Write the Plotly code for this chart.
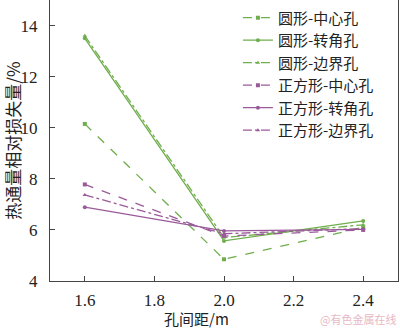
import plotly.graph_objects as go

spacing = [1.6, 2.0, 2.4]

names = ["圆形-中心孔", "圆形-转角孔", "圆形-边界孔",
         "正方形-中心孔", "正方形-转角孔", "正方形-边界孔"]

circle_center = [10.15, 4.85, 6.1]
circle_corner = [13.5, 5.57, 6.35]
circle_edge = [13.6, 5.7, 6.2]
square_center = [7.78, 5.76, 6.0]
square_corner = [6.89, 5.96, 6.02]
square_edge = [7.37, 5.85, 6.05]

series = [circle_center, circle_corner, circle_edge,
          square_center, square_corner, square_edge]

green = "#6fae4c"
purple = "#9a5a9a"
colors = [green, green, green, purple, purple, purple]
dashes = ["dash", "solid", "dashdot", "dash", "solid", "dashdot"]
symbols = ["square", "circle", "triangle-up", "square", "circle", "triangle-up"]

fig = go.Figure()
for name, ys, c, d, s in zip(names, series, colors, dashes, symbols):
    fig.add_trace(go.Scatter(
        x=spacing, y=ys, name=name, mode="lines+markers",
        line=dict(color=c, width=1.3, dash=d),
        marker=dict(symbol=s, size=4, color=c),
    ))

serif = "Times New Roman, Liberation Serif, serif"
cjk = "Noto Sans CJK SC"
axis_font = dict(family=serif, size=17, color="#222")
fig.update_layout(
    width=400, height=329,
    margin=dict(l=50, r=2, t=0, b=48),
    paper_bgcolor="white", plot_bgcolor="white",
    showlegend=True,
    legend=dict(x=0.54, y=0.995, xanchor="left", yanchor="top",
                bgcolor="rgba(0,0,0,0)",
                font=dict(family=cjk, size=15, color="#222"),
                itemwidth=30, tracegroupgap=0),
    xaxis=dict(range=[1.5, 2.5], tickvals=[1.6, 1.8, 2.0, 2.2, 2.4],
               ticktext=["1.6", "1.8", "2.0", "2.2", "2.4"],
               ticks="inside", ticklen=5, tickcolor="#444",
               ticklabelstandoff=4,
               showline=True, linecolor="#444", linewidth=1, mirror=True,
               showgrid=False, zeroline=False, tickfont=axis_font),
    yaxis=dict(range=[4, 15], tickvals=[4, 6, 8, 10, 12, 14],
               ticks="inside", ticklen=5, tickcolor="#444",
               ticklabelstandoff=8,
               showline=True, linecolor="#444", linewidth=1, mirror=True,
               showgrid=False, zeroline=False, tickfont=axis_font,
               title=dict(text="热通量相对损失量/%", standoff=2,
                          font=dict(family=cjk, size=17, color="#222"))),
)

# x-axis title placed as a paper annotation just under the tick labels
fig.add_annotation(text="孔间距/m", xref="paper", yref="paper",
                   x=0.42, y=-0.134, xanchor="center", yanchor="middle",
                   showarrow=False,
                   font=dict(family=cjk, size=15, color="#222"))

fig.add_annotation(text="@有色金属在线", xref="paper", yref="paper",
                   x=1.0, y=-0.1, xanchor="right", yanchor="top",
                   showarrow=False,
                   font=dict(family=cjk, size=11, color="#e8b8c4"))

fig.write_html("out.html")
